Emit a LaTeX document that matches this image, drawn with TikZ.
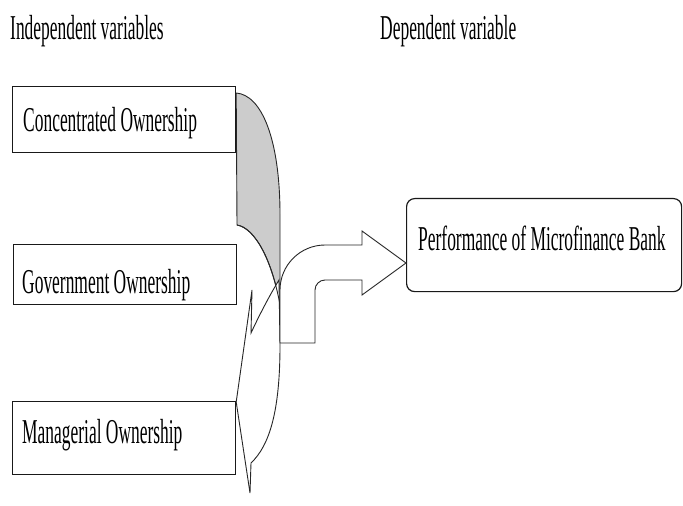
\documentclass[tikz,border=0pt]{standalone}
\usepackage{fontspec}
\setmainfont{Liberation Serif}
\newcommand\narrowtext[1]{\scalebox{0.5}[1]{#1}}
\tikzset{
  boxst/.style={draw=black!90, line width=1.2bp, inner sep=0pt, anchor=north west},
  lbl/.style={inner sep=0pt, anchor=base west, font=\fontsize{35}{40}\selectfont},
  shapeline/.style={draw=black!85, line width=0.9bp, line join=miter},
  backface/.style={shapeline, fill=black!20},
  frontface/.style={shapeline, fill=white}
}
\begin{document}
\begin{tikzpicture}[x=1bp, y=-1bp]
\useasboundingbox (0,0) rectangle (683,506);

% headings
\node (hind) [lbl] at (10,40) {\narrowtext{Independent variables}};
\node (hdep) [lbl] at (380,40) {\narrowtext{Dependent variable}};

% independent variable boxes
\node (b1) [boxst, minimum width=223bp, minimum height=66bp] at (12,86) {};
\node (t1) [lbl] at (23,132) {\narrowtext{Concentrated Ownership}};
\node (b2) [boxst, minimum width=223bp, minimum height=60bp] at (13,244) {};
\node (t2) [lbl] at (22,293) {\narrowtext{Government Ownership}};
\node (b3) [boxst, minimum width=223bp, minimum height=73bp] at (12,401) {};
\node (t3) [lbl] at (22,443) {\narrowtext{Managerial Ownership}};

% dependent variable box
\node (dv) [boxst, rounded corners=8bp, minimum width=275bp, minimum height=93bp] at (406,198) {};
\node (tdv) [lbl] at (418,251) {\narrowtext{Performance of Microfinance Bank}};

% curved arrow: back face (grey)
\path[backface] (b1.north east |- 0,93) .. controls (262,95) and (280,140) .. (280,215)
  -- (280,305) .. controls (272,260) and (255,228) .. (237,225) -- cycle;

% curved arrow: front face with head pointing to Managerial Ownership
\coordinate (tip) at (b3.east |- 0,402);
\path[frontface] (279,280) -- (280,345) .. controls (280,410) and (270,445) .. (251,463)
  -- (250,493) -- (tip) -- (252,290) -- (251,333)
  .. controls (258,318) and (268,298) .. (279,280) -- cycle;
% inner edge of the back face, seen crossing the front face
\draw[shapeline] (237,225) .. controls (255,228) and (272,260) .. (280,305);

% bent arrow towards the dependent variable
\coordinate (btip) at (dv.west |- 0,263);
\path[frontface] (280,343) -- (315,343) -- (315,290)
  .. controls (315,284.5) and (319.5,280) .. (325,280) -- (362,280) -- (362,295)
  -- (btip) -- (362,231) -- (362,245) -- (325,245)
  .. controls (300.2,245) and (280,265.2) .. (280,290) -- cycle;
\end{tikzpicture}
\end{document}
